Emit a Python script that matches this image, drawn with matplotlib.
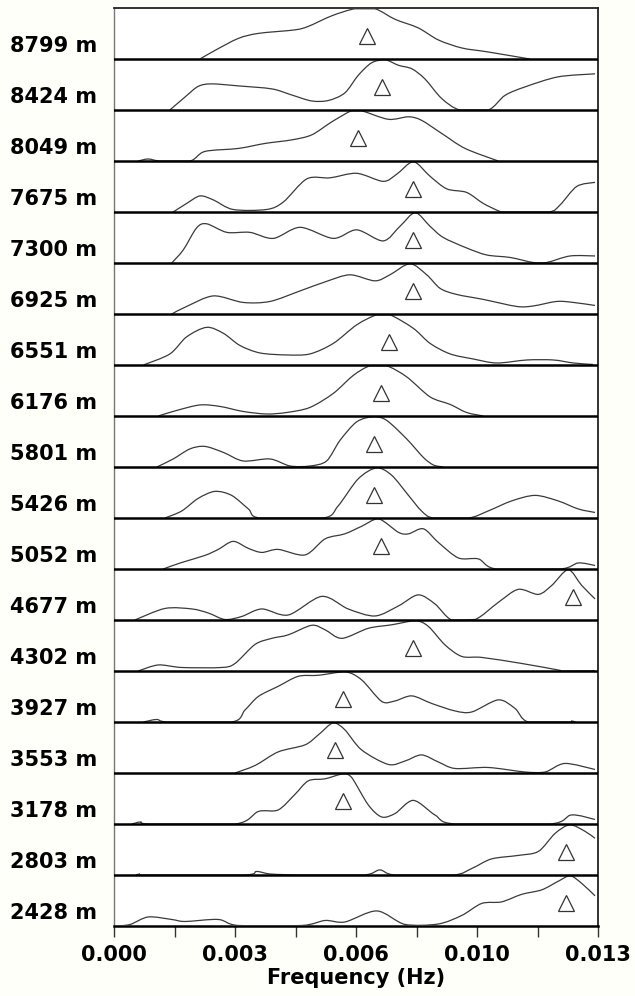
import matplotlib
matplotlib.use("Agg")
import matplotlib.pyplot as plt
import matplotlib.transforms as mtransforms
from matplotlib.path import Path
from matplotlib.patches import PathPatch

# ---------------- data ----------------
depths = ["8799 m", "8424 m", "8049 m", "7675 m", "7300 m", "6925 m", "6551 m", "6176 m", "5801 m",
          "5426 m", "5052 m", "4677 m", "4302 m", "3927 m", "3553 m", "3178 m", "2803 m", "2428 m"]

f_8799 = [0.00231, 0.00271, 0.00334, 0.00388, 0.00486, 0.00522, 0.00585, 0.00647, 0.00701, 0.00755,
          0.00817, 0.00871, 0.00934, 0.01005, 0.01117]
a_8799 = [0, 0.17, 0.41, 0.51, 0.58, 0.65, 0.86, 1.0, 1.0, 0.79, 0.62, 0.38, 0.22, 0.14, 0]

f_8424 = [0.00150, 0.00191, 0.00226, 0.00262, 0.00334, 0.00424, 0.00477, 0.00531, 0.00576, 0.00620,
          0.00656, 0.00692, 0.00728, 0.00764, 0.00800, 0.00835, 0.00880, 0.00929, 0.01005, 0.01050,
          0.01104, 0.01193, 0.01292]
a_8424 = [0, 0.26, 0.47, 0.52, 0.48, 0.42, 0.30, 0.18, 0.19, 0.34, 0.69, 0.94, 1.0, 0.89, 0.82, 0.62,
          0.23, 0, 0, 0.29, 0.46, 0.66, 0.72]

f_8049 = [0.00065, 0.00092, 0.00124, 0.00204, 0.00244, 0.00334, 0.00406, 0.00477, 0.00531, 0.00585,
          0.00638, 0.00665, 0.00737, 0.00791, 0.00826, 0.00880, 0.00943, 0.01032]
a_8049 = [0, 0.04, 0, 0, 0.19, 0.25, 0.35, 0.42, 0.52, 0.78, 1.0, 1.0, 0.83, 0.88, 0.81, 0.55, 0.25, 0]

f_7675 = [0.00159, 0.00195, 0.00231, 0.00267, 0.00320, 0.00410, 0.00455, 0.00518, 0.00580, 0.00652,
          0.00723, 0.00759, 0.00804, 0.00849, 0.00894, 0.00947, 0.00992, 0.01037, 0.01055, 0.01167,
          0.01198, 0.01243, 0.01292]
a_7675 = [0, 0.17, 0.32, 0.24, 0.05, 0.05, 0.20, 0.66, 0.68, 0.77, 0.61, 0.75, 1.0, 0.71, 0.46, 0.39,
          0.17, 0.01, 0, 0, 0.14, 0.51, 0.59]

f_7300 = [0.00155, 0.00186, 0.00222, 0.00249, 0.00303, 0.00365, 0.00428, 0.00500, 0.00589, 0.00652,
          0.00723, 0.00768, 0.00809, 0.00849, 0.00884, 0.00947, 0.01001, 0.01064, 0.01126, 0.01162,
          0.01225, 0.01292]
a_7300 = [0, 0.26, 0.70, 0.78, 0.61, 0.61, 0.49, 0.71, 0.49, 0.66, 0.44, 0.73, 1.0, 0.73, 0.51, 0.30,
          0.16, 0.11, 0.01, 0.01, 0.14, 0.14]

f_6925 = [0.00155, 0.00195, 0.00267, 0.00347, 0.00419, 0.00500, 0.00571, 0.00634, 0.00701, 0.00741,
          0.00795, 0.00840, 0.00876, 0.00920, 0.00992, 0.01082, 0.01126, 0.01189, 0.01234, 0.01292]
a_6925 = [0, 0.15, 0.36, 0.23, 0.25, 0.46, 0.65, 0.78, 0.66, 0.78, 1.0, 0.78, 0.51, 0.39, 0.29, 0.15,
          0.16, 0.25, 0.23, 0.17]

f_6551 = [0.00079, 0.00150, 0.00195, 0.00249, 0.00294, 0.00338, 0.00392, 0.00464, 0.00526, 0.00589,
          0.00652, 0.00706, 0.00741, 0.00804, 0.00849, 0.00903, 0.00965, 0.01028, 0.01109, 0.01180,
          0.01234, 0.01287]
a_6551 = [0, 0.22, 0.56, 0.75, 0.63, 0.39, 0.24, 0.20, 0.22, 0.43, 0.80, 1.0, 1.0, 0.73, 0.43, 0.22,
          0.12, 0.04, 0.10, 0.10, 0.04, 0.01]

f_6176 = [0.00119, 0.00168, 0.00231, 0.00285, 0.00347, 0.00410, 0.00464, 0.00526, 0.00589, 0.00643,
          0.00688, 0.00732, 0.00786, 0.00849, 0.00903, 0.00947, 0.00992]
a_6176 = [0, 0.11, 0.22, 0.19, 0.09, 0.04, 0.07, 0.17, 0.45, 0.81, 1.0, 1.0, 0.78, 0.38, 0.23, 0.07, 0]

f_5801 = [0.00115, 0.00159, 0.00204, 0.00244, 0.00294, 0.00347, 0.00419, 0.00473, 0.00526, 0.00571,
          0.00607, 0.00652, 0.00697, 0.00732, 0.00786, 0.00831, 0.00858, 0.00884]
a_5801 = [0, 0.16, 0.36, 0.41, 0.29, 0.12, 0.16, 0.02, 0.02, 0.12, 0.53, 0.90, 1.0, 0.93, 0.56, 0.19,
          0.04, 0]

f_5426 = [0.00137, 0.00182, 0.00226, 0.00271, 0.00316, 0.00361, 0.00392, 0.00562, 0.00602, 0.00656,
          0.00706, 0.00746, 0.00791, 0.00826, 0.00858, 0.00952, 0.01005, 0.01068, 0.01131, 0.01193,
          0.01247, 0.01292]
a_5426 = [0, 0.14, 0.39, 0.53, 0.45, 0.18, 0, 0, 0.24, 0.78, 1.0, 0.85, 0.45, 0.14, 0, 0, 0.14, 0.34,
          0.45, 0.34, 0.18, 0.11]

f_5052 = [0.00132, 0.00182, 0.00244, 0.00280, 0.00320, 0.00361, 0.00397, 0.00441, 0.00513, 0.00567,
          0.00620, 0.00665, 0.00710, 0.00764, 0.00791, 0.00831, 0.00871, 0.00925, 0.00979, 0.01027,
          0.01198, 0.01247, 0.01292]
a_5052 = [0, 0.13, 0.27, 0.39, 0.55, 0.41, 0.33, 0.39, 0.28, 0.60, 0.70, 0.85, 1.0, 0.73, 0.70, 0.80,
          0.53, 0.22, 0.20, 0, 0, 0.12, 0.07]

f_4677 = [0.00056, 0.00137, 0.00209, 0.00253, 0.00298, 0.00343, 0.00397, 0.00468, 0.00558, 0.00629,
          0.00701, 0.00764, 0.00817, 0.00862, 0.00907, 0.00970, 0.01032, 0.01086, 0.01140, 0.01176,
          0.01220, 0.01256, 0.01292]
a_4677 = [0, 0.23, 0.22, 0.14, 0.01, 0.07, 0.22, 0.10, 0.47, 0.22, 0.08, 0.28, 0.50, 0.32, 0, 0.01,
          0.35, 0.61, 0.51, 0.69, 1.0, 0.69, 0.42]

f_4302 = [0.00065, 0.00119, 0.00182, 0.00289, 0.00325, 0.00379, 0.00424, 0.00468, 0.00531, 0.00567,
          0.00612, 0.00683, 0.00746, 0.00809, 0.00844, 0.00889, 0.00934, 0.00988, 0.01095, 0.01193,
          0.01205, 0.01292]
a_4302 = [0, 0.12, 0.07, 0.07, 0.15, 0.53, 0.65, 0.72, 0.91, 0.82, 0.65, 0.85, 0.92, 1.0, 0.89, 0.52,
          0.29, 0.27, 0.15, 0.02, 0, 0.005]

f_3927 = [0.00079, 0.00115, 0.00146, 0.00316, 0.00352, 0.00388, 0.00441, 0.00495, 0.00549, 0.00620,
          0.00665, 0.00719, 0.00755, 0.00800, 0.00853, 0.00916, 0.00961, 0.01032, 0.01077, 0.01113,
          0.01220, 0.01229, 0.01240]
a_3927 = [0, 0.05, 0, 0, 0.24, 0.51, 0.71, 0.91, 0.93, 1.0, 0.84, 0.41, 0.42, 0.52, 0.37, 0.22, 0.20,
          0.44, 0.27, 0, 0, 0.02, 0]

f_3553 = [0.00325, 0.00379, 0.00441, 0.00513, 0.00549, 0.00589, 0.00620, 0.00665, 0.00737, 0.00782,
          0.00826, 0.00871, 0.00916, 0.01005, 0.01104, 0.01158, 0.01211, 0.01292]
a_3553 = [0, 0.15, 0.42, 0.56, 0.76, 1.0, 0.86, 0.46, 0.17, 0.24, 0.36, 0.22, 0.09, 0.11, 0.02, 0.02,
          0.19, 0.07]

f_3178 = [0.00048, 0.00072, 0.00097, 0.00325, 0.00388, 0.00441, 0.00486, 0.00522, 0.00567, 0.00616,
          0.00638, 0.00683, 0.00719, 0.00755, 0.00804, 0.00862, 0.00916, 0.01171, 0.01229, 0.01292]
a_3178 = [0, 0.04, 0, 0, 0.25, 0.28, 0.59, 0.86, 0.90, 1.0, 0.93, 0.38, 0.14, 0.21, 0.47, 0.18, 0, 0,
          0.18, 0.09]

f_2803 = [0.00060, 0.00070, 0.00080, 0.00347, 0.00383, 0.00420, 0.00504, 0.00670, 0.00714, 0.00755,
          0.00911, 0.00961, 0.01014, 0.01086, 0.01140, 0.01185, 0.01225, 0.01265, 0.01292]
a_2803 = [0, 0.015, 0, 0, 0.07, 0.02, 0, 0, 0.10, 0, 0, 0.13, 0.32, 0.39, 0.47, 0.83, 1.0, 0.87, 0.73]

f_2428 = [0.00003, 0.00043, 0.00092, 0.00155, 0.00191, 0.00280, 0.00334, 0.00504, 0.00567, 0.00620,
          0.00706, 0.00782, 0.00871, 0.00934, 0.00988, 0.01041, 0.01095, 0.01149, 0.01193, 0.01225,
          0.01256, 0.01292]
a_2428 = [0, 0.03, 0.18, 0.13, 0.09, 0.13, 0.01, 0.01, 0.11, 0.08, 0.30, 0.03, 0.04, 0.21, 0.45, 0.48,
          0.63, 0.72, 0.89, 1.0, 0.85, 0.60]

peak_freq = [0.00679, 0.00719, 0.00656, 0.00804, 0.00804, 0.00804, 0.00739, 0.00717, 0.00699,
             0.00699, 0.00717, 0.01234, 0.00802, 0.00616, 0.00594, 0.00616, 0.01213, 0.01213]

tick_pos = [0.0, 0.001625, 0.00325, 0.004875, 0.0065, 0.008125, 0.00975, 0.011375, 0.013]
tick_lab = ["0.000", "", "0.003", "", "0.006", "", "0.010", "", "0.013"]

series = [(f_8799, a_8799), (f_8424, a_8424), (f_8049, a_8049), (f_7675, a_7675), (f_7300, a_7300),
          (f_6925, a_6925), (f_6551, a_6551), (f_6176, a_6176), (f_5801, a_5801), (f_5426, a_5426),
          (f_5052, a_5052), (f_4677, a_4677), (f_4302, a_4302), (f_3927, a_3927), (f_3553, a_3553),
          (f_3178, a_3178), (f_2803, a_2803), (f_2428, a_2428)]


def smooth_path(xs, ys, lo, hi, t=0.9):
    """Cubic Bezier path through the given points (Catmull-Rom style tangents)."""
    n = len(xs)
    verts = [(xs[0], ys[0])]
    codes = [Path.MOVETO]
    for i in range(n - 1):
        x0, y0 = xs[max(i - 1, 0)], ys[max(i - 1, 0)]
        x1, y1 = xs[i], ys[i]
        x2, y2 = xs[i + 1], ys[i + 1]
        x3, y3 = xs[min(i + 2, n - 1)], ys[min(i + 2, n - 1)]
        c1 = (x1 + (x2 - x0) * t / 6, min(max(y1 + (y2 - y0) * t / 6, lo), hi))
        c2 = (x2 - (x3 - x1) * t / 6, min(max(y2 - (y3 - y1) * t / 6, lo), hi))
        verts += [c1, c2, (x2, y2)]
        codes += [Path.CURVE4] * 3
    return Path(verts, codes)


# ---------------- figure ----------------
W, H = 635, 996
fig = plt.figure(figsize=(W / 100, H / 100), dpi=100, facecolor='#fffffa')
ax = fig.add_axes([114 / W, 1 - 926 / H, (598 - 114) / W, (926 - 8) / H])
ax.set_facecolor('white')

n = len(series)
ax.set_xlim(0, 0.013)
ax.set_ylim(0, n)

curve_col = '#3a3a3a'
trans = mtransforms.blended_transform_factory(ax.transAxes, ax.transData)
for i, ((fx, ay), pf, lab) in enumerate(zip(series, peak_freq, depths)):
    base = n - 1 - i
    ys = [base + v * 0.985 for v in ay]
    ax.add_patch(PathPatch(smooth_path(fx, ys, base, base + 0.985), fill=False,
                           edgecolor=curve_col, lw=0.9, zorder=3))
    ax.plot([pf], [base + 0.46], marker='^', ms=12, mfc='white', mec='#333333', mew=0.9,
            ls='none', zorder=4)
    ax.text(-0.035, base + 0.13, lab, transform=trans, ha='right', va='baseline',
            fontsize=15, fontweight='bold', color='black')
    if base > 0:
        ax.axhline(base, color='black', lw=1.8, zorder=5)

for side in ['top', 'right']:
    ax.spines[side].set_color('#222222')
    ax.spines[side].set_linewidth(1.3)
ax.spines['left'].set_color('#777777')
ax.spines['left'].set_linewidth(1.0)
ax.spines['bottom'].set_color('black')
ax.spines['bottom'].set_linewidth(1.8)

ax.set_yticks([])
ax.set_xticks(tick_pos)
ax.set_xticklabels(tick_lab)
ax.tick_params(axis='x', direction='out', length=8, width=1.0, color='#333333',
               labelsize=15, pad=5.5)
for tl in ax.get_xticklabels():
    tl.set_fontweight('bold')
ax.set_xlabel('Frequency (Hz)', fontsize=15, fontweight='bold', labelpad=2)

fig.savefig('out.png', dpi=100, facecolor=fig.get_facecolor())
